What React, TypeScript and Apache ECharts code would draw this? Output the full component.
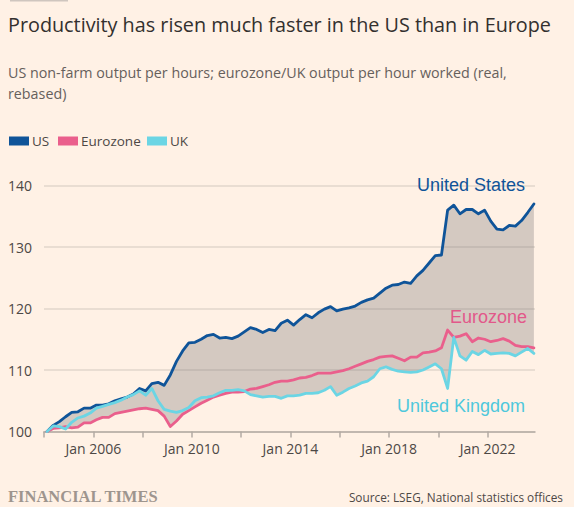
import React, { useEffect, useRef } from "react";
import * as echarts from "echarts";

// ---- Data (quarterly, 2004 Q1 .. 2023 Q4, rebased) ----
const START_YEAR = 2004;

const US = [
  100, 101, 101.6, 102.4, 103.1, 103.2, 103.8, 103.8, 104.3, 104.3,
  104.5, 105, 105.3, 105.6, 106.1, 107, 106.6, 107.8, 108, 107.5,
  109.2, 111.4, 113.1, 114.4, 114.5, 115, 115.6, 115.8, 115.2, 115.3,
  115.1, 115.5, 116.2, 116.9, 116.6, 116.1, 116.6, 116.4, 117.6, 118.1,
  117.3, 118.2, 119, 118.5, 119.3, 119.9, 120.3, 119.6, 119.9, 120.1,
  120.4, 121, 121.4, 121.7, 122.5, 123.3, 123.8, 123.9, 124.3, 124.1,
  125.3, 126.2, 127.4, 128.6, 128.7, 136, 136.8, 135.4, 136.1, 136.1,
  135.4, 136, 134.2, 132.9, 132.8, 133.5, 133.4, 134.3, 135.6, 137,
];

const EUROZONE = [
  100, 100.5, 100.6, 100.8, 100.6, 100.7, 101.4, 101.4, 101.9, 102.3,
  102.3, 102.9, 103.1, 103.3, 103.5, 103.7, 103.8, 103.6, 103.4, 102.5,
  100.8, 101.7, 102.8, 103.4, 104, 104.6, 105.1, 105.6, 105.9, 106.2,
  106.4, 106.4, 106.5, 106.9, 107, 107.3, 107.6, 108, 108.2, 108.2,
  108.4, 108.7, 108.8, 109.1, 109.5, 109.5, 109.5, 109.7, 109.9, 110.2,
  110.6, 111, 111.4, 111.7, 112.1, 112.2, 112.3, 111.9, 111.5, 112.1,
  112.1, 112.8, 112.9, 113.1, 113.6, 116.5, 115.3, 115.5, 115.9, 114.6,
  115.2, 115, 114.6, 114.8, 115.1, 114.7, 114, 113.8, 113.8, 113.6,
];

const UK = [
  100, 100.9, 100.8, 100.4, 101.5, 102.2, 102.5, 103, 103.8, 104.1,
  104.4, 104.7, 105.1, 105.6, 106, 106.6, 105.9, 107, 105, 103.6,
  103.3, 103.1, 103.4, 103.9, 105, 105.5, 105.6, 105.8, 106.3, 106.7,
  106.7, 106.8, 106.6, 106, 105.8, 105.6, 105.7, 105.7, 105.4, 105.8,
  105.8, 105.9, 106.2, 106.2, 106.3, 106.7, 107.3, 105.9, 106.4, 107,
  107.4, 107.9, 108.2, 108.9, 110.2, 110.5, 110.1, 109.8, 109.7, 109.6,
  109.7, 110, 110.5, 111, 110.2, 107, 115.3, 112.3, 111.6, 113,
  112.5, 113.2, 112.6, 112.7, 112.8, 112.7, 112.3, 112.9, 113.5, 112.7,
];

const Y_MIN = 100;
const Y_MAX = 140;
const Y_STEP = 10;
const X_MIN = 2004;
const X_MAX = 2023.92;
const X_TICK_YEARS = [2004, 2006, 2008, 2010, 2012, 2014, 2016, 2018, 2020, 2022];
const X_LABEL_YEARS = [2006, 2010, 2014, 2018, 2022];

const SERIES_NAMES = ["US", "Eurozone", "UK"];
const LINE_LABELS = ["United States", "Eurozone", "United Kingdom"];

const TITLE = "Productivity has risen much faster in the US than in Europe";
const SUBTITLE =
  "US non-farm output per hours; eurozone/UK output per hour worked (real,\nrebased)";
const SOURCE = "Source: LSEG, National statistics offices";
const BRAND = "FINANCIAL TIMES";

// ---- Styles ----
const BG = "#fff1e5";
const US_COLOR = "#0f5499";
const EZ_COLOR = "#ea5f8c";
const UK_COLOR = "#6bd5e4";
const SERIES_COLORS = [US_COLOR, EZ_COLOR, UK_COLOR];
const FILL = "rgba(128,124,122,0.34)";
const FONT = '"Open Sans", "Noto Sans", sans-serif';
const LABEL_FONT = '"Liberation Sans", Arial, sans-serif';
const LEGEND_SWATCH_X = [9, 58, 147];

function quarterX(i: number): number {
  return START_YEAR + (i + 0.5) / 4;
}

export default function App() {
  const ref = useRef<HTMLDivElement>(null);

  useEffect(() => {
    if (!ref.current) return;
    const chart = echarts.init(ref.current, null, { renderer: "svg" });

    const xs = US.map((_, i) => quarterX(i));
    const low = US.map((v, i) => Math.min(v, EUROZONE[i], UK[i]));
    const high = US.map((v, i) => Math.max(v, EUROZONE[i], UK[i]));
    const bandData = xs.map((x, i) => [x, low[i], high[i]]);

    const lineSeries = (name: string, values: number[], color: string, z: number) => ({
      name,
      type: "line",
      data: xs.map((x, i) => [x, values[i]]),
      symbol: "none",
      lineStyle: { color, width: 2.8, join: "round", cap: "round" },
      itemStyle: { color },
      z,
      silent: true,
    });

    const legendGraphics: any[] = [];
    SERIES_NAMES.forEach((name, k) => {
      legendGraphics.push({
        type: "rect",
        shape: { x: LEGEND_SWATCH_X[k], y: 136.5, width: 20, height: 9 },
        style: { fill: SERIES_COLORS[k] },
      });
      legendGraphics.push({
        type: "text",
        x: LEGEND_SWATCH_X[k] + 23,
        y: 141,
        style: {
          text: name,
          fill: "#4d4845",
          fontSize: 13.5,
          fontFamily: FONT,
          verticalAlign: "middle",
        },
      });
    });

    const option: any = {
      animation: false,
      backgroundColor: BG,
      color: SERIES_COLORS,
      grid: {
        left: 44,
        right: 39,
        top: 185.5,
        bottom: 75.5,
        containLabel: false,
        outerBoundsMode: "none",
      },
      xAxis: {
        type: "value",
        min: X_MIN,
        max: X_MAX,
        interval: 2,
        splitLine: { show: false },
        axisLine: { show: true, lineStyle: { color: "#b3aaa3", width: 1.5 } },
        axisTick: {
          show: true,
          length: 6,
          customValues: X_TICK_YEARS,
          lineStyle: { color: "#b3aaa3", width: 1.5 },
        },
        axisLabel: {
          customValues: X_LABEL_YEARS,
          formatter: (v: number) => "Jan " + Math.round(v),
          fontSize: 14,
          color: "#4d4845",
          fontFamily: FONT,
          margin: 10,
        },
      },
      yAxis: {
        type: "value",
        min: Y_MIN,
        max: Y_MAX,
        interval: Y_STEP,
        axisLine: { show: false },
        axisTick: { show: false },
        splitLine: { show: true, lineStyle: { color: "#e2d6cb", width: 1.5 } },
        axisLabel: {
          align: "left",
          margin: 36,
          fontSize: 14,
          color: "#4d4845",
          fontFamily: FONT,
        },
      },
      series: [
        {
          name: "gap",
          type: "custom",
          data: bandData,
          encode: { x: 0, y: [1, 2] },
          silent: true,
          z: 1,
          renderItem: (params: any, api: any) => {
            if (params.dataIndex !== 0) return null;
            const top = bandData.map((d) => api.coord([d[0], d[2]]));
            const bottom = bandData
              .slice()
              .reverse()
              .map((d) => api.coord([d[0], d[1]]));
            return {
              type: "polygon",
              shape: { points: top.concat(bottom) },
              style: { fill: FILL },
            };
          },
        },
        lineSeries(SERIES_NAMES[0], US, US_COLOR, 3),
        lineSeries(SERIES_NAMES[1], EUROZONE, EZ_COLOR, 4),
        lineSeries(SERIES_NAMES[2], UK, UK_COLOR, 5),
      ],
      graphic: [
        {
          type: "rect",
          shape: { x: 10, y: 0, width: 58, height: 1.5 },
          style: { fill: "#cfc6bf" },
        },
        {
          type: "text",
          x: 8,
          y: 24,
          style: {
            text: TITLE,
            fill: "#33302e",
            fontSize: 19.8,
            fontFamily: FONT,
            verticalAlign: "middle",
          },
        },
        {
          type: "text",
          x: 8,
          y: 61.5,
          style: {
            text: SUBTITLE,
            fill: "#66605c",
            fontSize: 14.3,
            lineHeight: 21,
            fontFamily: FONT,
            verticalAlign: "top",
          },
        },
        ...legendGraphics,
        {
          type: "text",
          x: 525,
          y: 185,
          z: 10,
          style: {
            text: LINE_LABELS[0],
            fill: US_COLOR,
            fontSize: 18,
            fontFamily: LABEL_FONT,
            align: "right",
            verticalAlign: "middle",
          },
        },
        {
          type: "text",
          x: 527,
          y: 317,
          z: 10,
          style: {
            text: LINE_LABELS[1],
            fill: "#e2588a",
            fontSize: 18,
            fontFamily: LABEL_FONT,
            align: "right",
            verticalAlign: "middle",
          },
        },
        {
          type: "text",
          x: 525,
          y: 406,
          z: 10,
          style: {
            text: LINE_LABELS[2],
            fill: "#4fc8dc",
            fontSize: 18,
            fontFamily: LABEL_FONT,
            align: "right",
            verticalAlign: "middle",
          },
        },
        {
          type: "text",
          x: 8,
          y: 496,
          style: {
            text: BRAND,
            fill: "#9e958e",
            fontSize: 16.5,
            fontWeight: "bold",
            fontFamily: '"Liberation Serif", "DejaVu Serif", serif',
            verticalAlign: "middle",
          },
        },
        {
          type: "text",
          x: 563,
          y: 497,
          style: {
            text: SOURCE,
            fill: "#4d4845",
            fontSize: 11.8,
            fontFamily: FONT,
            align: "right",
            verticalAlign: "middle",
          },
        },
      ],
    };

    chart.setOption(option);
    return () => chart.dispose();
  }, []);

  return (
    <div
      ref={ref}
      style={{ position: "fixed", left: 0, top: 0, width: 574, height: 507, background: BG }}
    />
  );
}
